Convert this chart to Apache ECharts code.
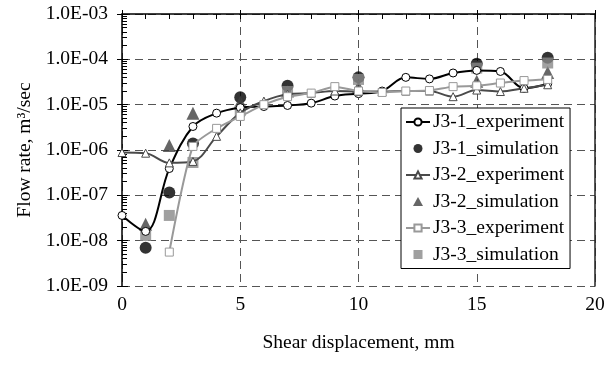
<!DOCTYPE html>
<html>
<head>
<meta charset="utf-8">
<script src="https://cdn.jsdelivr.net/npm/echarts@6/dist/echarts.min.js"></script>
<style>html,body{margin:0;padding:0;background:#fff;}#c{width:616px;height:365px;}</style>
</head>
<body>
<div id="c"></div>
<script>
// ---- data ----
const xExp12 = [0,1,2,3,4,5,6,7,8,9,10,11,12,13,14,15,16,17,18];
const j31Exp = [3.6e-8,1.6e-8,3.9e-7,3.3e-6,6.5e-6,8.6e-6,9.1e-6,9.6e-6,1.08e-5,1.55e-5,1.75e-5,2.0e-5,4.0e-5,3.7e-5,5.0e-5,5.7e-5,5.4e-5,2.3e-5,2.9e-5];
const j32Exp = [8.8e-7,8.5e-7,5.2e-7,5.6e-7,2.0e-6,6.6e-6,1.2e-5,1.7e-5,1.8e-5,2.0e-5,1.95e-5,1.95e-5,2.0e-5,2.0e-5,1.5e-5,2.1e-5,1.95e-5,2.3e-5,2.75e-5];
const xExp3 = [2,3,4,5,6,7,8,9,10,11,12,13,14,15,16,17,18];
const j33Exp = [5.6e-9,1.2e-6,3.0e-6,5.5e-6,1.0e-5,1.5e-5,1.8e-5,2.5e-5,2.0e-5,1.86e-5,2.0e-5,2.05e-5,2.5e-5,2.6e-5,3.0e-5,3.4e-5,3.6e-5];
const xSim = [1,2,3,5,7,10,15,18];
const j31Sim = [7e-9,1.15e-7,1.4e-6,1.45e-5,2.6e-5,4.0e-5,8.0e-5,1.08e-4];
const j32Sim = [2.3e-8,1.25e-6,6.5e-6,1.15e-5,2.0e-5,2.5e-5,3.3e-5,5.1e-5];
const j33Sim = [1.3e-8,3.6e-8,5.3e-7,7.4e-6,1.95e-5,3.6e-5,6.4e-5,8.3e-5];
const names = ['J3-1_experiment','J3-1_simulation','J3-2_experiment','J3-2_simulation','J3-3_experiment','J3-3_simulation'];
const xTitle = 'Shear displacement, mm';
const yTitle = 'Flow rate, m³/sec';

const pairs = (xs, ys) => xs.map((x, i) => [x, ys[i]]);
const FONT = '"Liberation Serif", "Times New Roman", serif';
const FS = 19.5;
const minorVals = [];
for (let e = -9; e < -3; e++) for (let k = 2; k <= 9; k++) minorVals.push(k * Math.pow(10, e));
const fmt = v => { const e = Math.round(Math.log10(v)); return '1.0E' + (e < 0 ? '-' : '+') + String(Math.abs(e)).padStart(2, '0'); };

const grid = { left: 122, right: 21, top: 14, bottom: 79, containLabel: false };
const yBase = { type: 'log', logBase: 10, min: 1e-9, max: 1e-3, gridIndex: 0 };
const xBase = { type: 'value', min: 0, max: 20, gridIndex: 0 };
const dashed = { show: true, lineStyle: { color: '#555', type: [8, 5], width: 1 } };

const option = {
  animation: false,
  backgroundColor: '#fff',
  grid: grid,
  textStyle: { fontFamily: FONT },
  legend: {
    orient: 'vertical', left: 401, top: 108, width: 168,
    padding: [4, 6, 4, 4], itemGap: 6.5, itemWidth: 24, itemHeight: 9,
    symbolKeepAspect: true,
    backgroundColor: '#fff', borderColor: '#000', borderWidth: 1,
    textStyle: { fontFamily: FONT, fontSize: FS, color: '#000', padding: [0, 0, 0, -2] },
    data: [
      { name: names[0] },
      { name: names[1], icon: 'circle' },
      { name: names[2] },
      { name: names[3], icon: 'path://M5,0 L10,9 L0,9 Z' },
      { name: names[4] },
      { name: names[5], icon: 'path://M0,0 L10,0 L10,10 L0,10 Z' }
    ]
  },
  xAxis: [
    Object.assign({}, xBase, {
      position: 'bottom', interval: 5,
      axisLine: { show: false }, axisTick: { show: false },
      axisLabel: { fontFamily: FONT, fontSize: FS, color: '#000', margin: 9 },
      splitLine: dashed,
      name: xTitle, nameLocation: 'middle', nameGap: 47,
      nameTextStyle: { fontFamily: FONT, fontSize: FS, color: '#000' }
    }),
    Object.assign({}, xBase, {
      position: 'top', interval: 1,
      axisLine: { show: true, lineStyle: { color: '#000', width: 1.5 } },
      axisTick: { show: true, inside: true, length: 5, lineStyle: { color: '#000' } },
      axisLabel: { show: false }, splitLine: { show: false }
    }),
    Object.assign({}, xBase, {
      position: 'top', interval: 5,
      axisLine: { show: false },
      axisTick: { show: true, inside: false, length: 4, lineStyle: { color: '#000' } },
      axisLabel: { show: false }, splitLine: { show: false }
    })
  ],
  yAxis: [
    Object.assign({}, yBase, {
      position: 'left', splitNumber: 6,
      axisLine: { show: true, lineStyle: { color: '#000', width: 1.5 } },
      axisTick: { show: true, inside: true, length: 6, lineStyle: { color: '#000' } },
      axisLabel: { fontFamily: FONT, fontSize: FS, color: '#000', margin: 14, formatter: fmt },
      splitLine: dashed,
      name: yTitle, nameLocation: 'middle', nameGap: 87, nameRotate: 90,
      nameTextStyle: { fontFamily: FONT, fontSize: FS, color: '#000' }
    }),
    Object.assign({}, yBase, {
      position: 'left', splitNumber: 6,
      axisLine: { show: false },
      axisTick: { show: true, inside: false, length: 5, lineStyle: { color: '#000' } },
      axisLabel: { show: false }, splitLine: { show: false }
    }),
    Object.assign({}, yBase, {
      position: 'left',
      axisLine: { show: false },
      axisTick: { show: true, inside: true, length: 5, customValues: minorVals, lineStyle: { color: '#000' } },
      axisLabel: { show: false }, splitLine: { show: false }
    }),
    Object.assign({}, yBase, {
      position: 'right',
      axisLine: { show: true, lineStyle: { color: '#222', width: 1.5 } },
      axisTick: { show: false }, axisLabel: { show: false }, splitLine: { show: false }
    })
  ],
  series: [
    { name: names[0], type: 'line', data: pairs(xExp12, j31Exp), smooth: 0.35,
      symbol: 'circle', symbolSize: 8,
      lineStyle: { color: '#000', width: 2 },
      itemStyle: { color: '#fff', borderColor: '#000', borderWidth: 1 } },
    { name: names[1], type: 'scatter', data: pairs(xSim, j31Sim),
      symbol: 'circle', symbolSize: 12, itemStyle: { color: '#000' } },
    { name: names[2], type: 'line', data: pairs(xExp12, j32Exp), smooth: 0.35,
      symbol: 'triangle', symbolSize: 8,
      lineStyle: { color: '#4a4a4a', width: 2 },
      itemStyle: { color: '#fff', borderColor: '#4a4a4a', borderWidth: 1 } },
    { name: names[3], type: 'scatter', data: pairs(xSim, j32Sim),
      symbol: 'triangle', symbolSize: 13, itemStyle: { color: '#404040' } },
    { name: names[4], type: 'line', data: pairs(xExp3, j33Exp), smooth: 0.2,
      symbol: 'rect', symbolSize: 8,
      lineStyle: { color: '#999', width: 2 },
      itemStyle: { color: '#fff', borderColor: '#999', borderWidth: 1 } },
    { name: names[5], type: 'scatter', data: pairs(xSim, j33Sim),
      symbol: 'rect', symbolSize: 11, itemStyle: { color: '#888' } }
  ]
};
const chart = echarts.init(document.getElementById('c'), null, { renderer: 'canvas' });
chart.setOption(option);
</script>
</body>
</html>
